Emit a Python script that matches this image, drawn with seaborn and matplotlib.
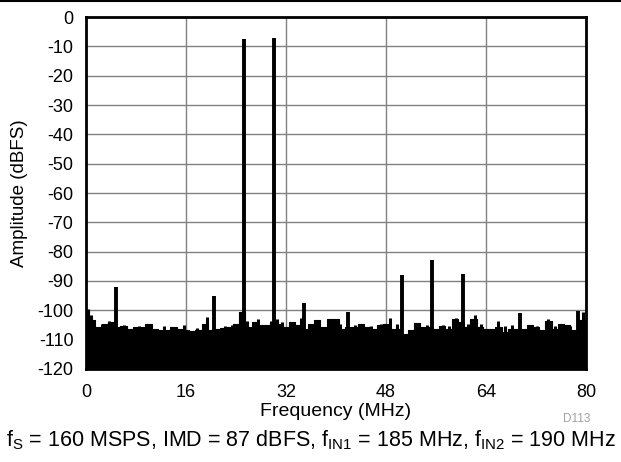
import numpy as np
import pandas as pd
import matplotlib
matplotlib.use("Agg")
import matplotlib.pyplot as plt
import seaborn as sns

# noise floor envelope, read every 1 MHz (dBFS)
floor_freq = list(range(0, 81))
floor_top = [
    -100.0, -103.4, -105.7, -104.5, -104.0, -105.7, -105.3, -106.3, -105.7, -105.7,
    -104.5, -106.3, -106.8, -106.8, -105.7, -106.3, -106.8, -107.2, -106.8, -104.5,
    -106.8, -106.3, -106.0, -105.7, -104.5, -100.5, -105.7, -104.0, -105.0, -105.0,
    -104.0, -104.5, -105.7, -104.0, -105.0, -106.3, -104.5, -103.4, -105.7, -103.0,
    -102.8, -106.3, -105.7, -105.7, -104.5, -105.7, -106.3, -105.0, -104.5, -106.3,
    -106.3, -108.0, -106.8, -104.2, -105.7, -105.7, -106.3, -105.3, -106.3, -102.8,
    -104.0, -105.7, -103.0, -105.7, -106.3, -106.3, -105.7, -107.4, -106.3, -106.3,
    -106.3, -104.9, -105.7, -106.8, -103.5, -106.3, -104.5, -105.0, -106.8, -103.4,
    -103.4,
]

# tones and spurs
spur_freq = [4.8, 20.5, 25.3, 30.1, 34.9, 41.9, 50.6, 55.4, 60.3, 69.5, 78.7]
spur_amp = [-92.0, -95.0, -7.5, -7.3, -97.5, -100.5, -88.0, -83.0, -87.5, -100.8, -100.3]

# smaller peaks riding on the floor
bump_freq = [0.3, 0.8, 2.6, 3.7, 6.1, 7.6, 8.5, 10.3, 12.4, 14.3, 15.6, 17.8,
             19.3, 22.3, 23.4, 24.2, 24.7, 25.8, 27.6, 28.8, 29.6, 30.6, 31.4,
             33.0, 34.4, 36.3, 37.0, 39.0, 39.8, 40.7, 43.1, 44.0, 45.6, 47.2,
             48.6, 49.8, 52.6, 53.3, 54.6, 57.2, 58.1, 59.2, 61.1, 62.2, 63.2,
             65.9, 67.0, 68.2, 71.1, 72.2, 73.9, 75.1, 76.2, 77.5, 79.5]
bump_amp = [-99.5, -101.5, -104.5, -103.8, -105.0, -105.7, -105.3, -104.5, -105.5, -105.7, -105.0, -106.0,
            -102.3, -105.2, -105.0, -104.5, -101.5, -103.5, -102.8, -105.0, -103.5, -103.0, -104.0,
            -104.0, -102.6, -104.8, -103.4, -103.0, -102.8, -104.5, -105.0, -104.5, -105.2, -104.5,
            -102.6, -104.5, -104.2, -104.5, -105.0, -104.9, -105.5, -102.6, -104.8, -101.5, -104.5,
            -103.8, -105.5, -104.9, -104.9, -105.5, -102.8, -105.3, -104.5, -105.3, -100.6]

sns.set_theme(style="white")
plt.rcParams['font.family'] = ['Liberation Sans', 'DejaVu Sans']
plt.rcParams['mathtext.fontset'] = 'custom'
plt.rcParams['mathtext.rm'] = 'Liberation Sans'
plt.rcParams['mathtext.it'] = 'Liberation Sans'

fig = plt.figure(figsize=(6.21, 4.62), dpi=100)
ax = fig.add_axes([0.1385, 0.2013, 0.8051, 0.7619])

df = pd.DataFrame({'freq': floor_freq, 'amp': floor_top})
ax.fill_between(df['freq'], -120, df['amp'], step='mid', color='black', lw=0.6, edgecolor='black')
sns.lineplot(data=df, x='freq', y='amp', color='black', lw=0.8, drawstyle='steps-mid', ax=ax)

ax.vlines(bump_freq, -120, bump_amp, color='black', lw=2.2)
ax.vlines(spur_freq, -120, spur_amp, color='black', lw=2.8)

ax.set_xlim(0, 80)
ax.set_ylim(-120, 0)
ax.set_xticks([0, 16, 32, 48, 64, 80])
ax.set_yticks(range(-120, 1, 10))
ax.set_yticklabels([str(v) for v in range(-120, 1, 10)])
ax.grid(True, color='#808080', lw=1.0)
ax.set_axisbelow(True)
for s in ax.spines.values():
    s.set_color('black')
    s.set_linewidth(2.0)
    s.set_zorder(5)
ax.tick_params(length=0, labelsize=13, colors='black')
ax.tick_params(axis='x', pad=11)
ax.tick_params(axis='y', pad=9)

ax.set_xlabel('Frequency (MHz)', fontsize=14, labelpad=1, color='black')
ax.set_ylabel('Amplitude (dBFS)', fontsize=13.5, labelpad=7, color='black')

fig.add_artist(plt.Line2D([0, 1], [0.997, 0.997], color='black', lw=1.5))
fig.text(0.951, 0.092, 'D113', fontsize=8.5, color='#a0a0a0', ha='right', va='center')
fig.text(0.5, 0.047,
         r'f$_\mathregular{S}$ = 160 MSPS, IMD = 87 dBFS, f$_\mathregular{IN1}$ = 185 MHz, '
         r'f$_\mathregular{IN2}$ = 190 MHz',
         fontsize=15.5, ha='center', va='center', color='black')

fig.savefig('out.png', dpi=100)
